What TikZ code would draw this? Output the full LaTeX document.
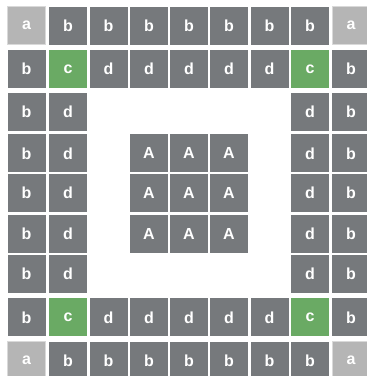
\documentclass[tikz,border=0pt]{standalone}
\usepackage{fontspec}
\setmainfont{Liberation Sans}
\definecolor{darkcell}{HTML}{76797C}
\definecolor{greencell}{HTML}{6AAA64}
\definecolor{lightcell}{HTML}{B5B5B5}
\definecolor{lightborder}{HTML}{D9D9D9}
\tikzset{
  tile/.style={anchor=north west, minimum width=38pt, minimum height=38pt, inner sep=0pt, outer sep=0pt,
    text=white, font=\fontsize{16}{16}\selectfont\bfseries},
  cell-a/.style={tile, fill=lightcell, draw=lightborder, line width=0.8pt},
  cell-b/.style={tile, fill=darkcell},
  cell-d/.style={tile, fill=darkcell},
  cell-A/.style={tile, fill=darkcell},
  cell-c/.style={tile, fill=greencell},
}
\begin{document}
\begin{tikzpicture}[x=1pt,y=-1pt]
\useasboundingbox (0,0) rectangle (367,376);
\clip (0,0) rectangle (367,376);
\def\blank{x}
\foreach \row [count=\r from 0] in {
  {a,b,b,b,b,b,b,b,a},
  {b,c,d,d,d,d,d,c,b},
  {b,d,x,x,x,x,x,d,b},
  {b,d,x,A,A,A,x,d,b},
  {b,d,x,A,A,A,x,d,b},
  {b,d,x,A,A,A,x,d,b},
  {b,d,x,x,x,x,x,d,b},
  {b,c,d,d,d,d,d,c,b},
  {a,b,b,b,b,b,b,b,a}} {
  \pgfmathsetmacro\ytop{{6.5,50,92.7,134.3,174,215,255,298.3,341.7}[\r]}
  \foreach \L [count=\c from 0] in \row {
    \pgfmathsetmacro\xleft{{7.5,49,89.5,130,170,210,250.5,291,332}[\c]}
    \edef\cur{\L}
    \ifx\cur\blank\else
      \node[cell-\L] (t-\r-\c) at (\xleft,\ytop) {\L};
    \fi
  }
}
\end{tikzpicture}
\end{document}
